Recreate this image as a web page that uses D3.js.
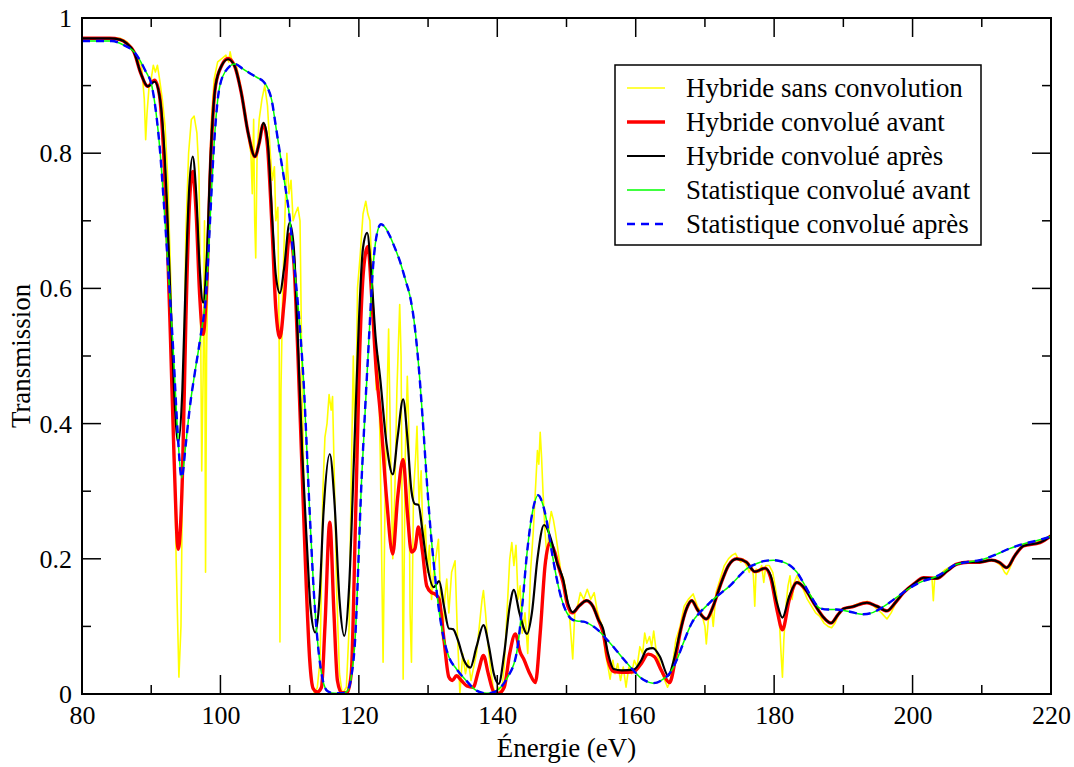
<!DOCTYPE html>
<html><head><meta charset="utf-8">
<script src="https://cdn.jsdelivr.net/npm/d3@7"></script>
<style>
html,body{margin:0;padding:0;background:#fff;}
text{font-family:"Liberation Serif","Times New Roman",Times,"DejaVu Serif","Noto Serif",serif;fill:#000;}
</style></head>
<body><svg id="chart" width="1074" height="767"></svg>
<script>
// ---------- DATA ----------
const xTicks = [80,100,120,140,160,180,200,220];
const yTicks = [0,0.2,0.4,0.6,0.8,1];
const yTickLabels = ["0","0.2","0.4","0.6","0.8","1"];
const seriesNames = ["Hybride sans convolution","Hybride convolué avant","Hybride convolué après","Statistique convolué avant","Statistique convolué après"];

const hybrideSans = [[80,0.970],[85.5,0.970],[86.5,0.965],[87.3,0.955],[88.0,0.94],[88.6,0.93],[89.0,0.88],[89.2,0.82],[89.4,0.86],[89.7,0.90],[90.0,0.91],[90.3,0.93],[90.6,0.92],[90.9,0.93],[91.2,0.91],[91.6,0.88],[92.0,0.84],[92.4,0.76],[92.8,0.62],[93.2,0.45],[93.6,0.20],[94.0,0.025],[94.3,0.10],[94.6,0.40],[95.0,0.68],[95.4,0.80],[95.8,0.85],[96.2,0.855],[96.6,0.83],[96.9,0.77],[97.1,0.60],[97.3,0.33],[97.5,0.47],[97.7,0.70],[97.85,0.18],[98.0,0.50],[98.3,0.72],[98.7,0.85],[99.1,0.91],[99.6,0.935],[100.2,0.94],[100.8,0.945],[101.2,0.935],[101.4,0.95],[101.7,0.935],[102.3,0.93],[103.0,0.895],[103.6,0.86],[104.1,0.82],[104.4,0.80],[104.6,0.74],[104.8,0.85],[104.95,0.70],[105.1,0.645],[105.3,0.80],[105.6,0.85],[106.0,0.88],[106.4,0.90],[106.8,0.87],[107.2,0.80],[107.5,0.76],[107.8,0.78],[108.0,0.70],[108.3,0.72],[108.5,0.50],[108.6,0.077],[108.75,0.45],[109.0,0.60],[109.3,0.70],[109.6,0.80],[109.9,0.74],[110.2,0.76],[110.5,0.70],[110.8,0.71],[111.2,0.72],[111.5,0.70],[111.8,0.45],[112.1,0.30],[112.4,0.18],[112.8,0.08],[113.2,0.02],[113.6,0.0],[114.0,0.01],[114.4,0.05],[114.8,0.30],[115.1,0.38],[115.4,0.40],[115.7,0.443],[116.0,0.42],[116.2,0.44],[116.5,0.30],[116.8,0.15],[117.2,0.03],[117.6,0.0],[118.2,0.01],[118.6,0.10],[118.9,0.32],[119.2,0.50],[119.5,0.35],[119.8,0.60],[120.2,0.65],[120.6,0.71],[121.0,0.729],[121.3,0.71],[121.6,0.70],[121.9,0.62],[122.2,0.55],[122.5,0.45],[122.8,0.50],[123.1,0.35],[123.5,0.047],[123.8,0.30],[124.1,0.45],[124.3,0.54],[124.6,0.35],[124.9,0.20],[125.2,0.30],[125.5,0.45],[125.9,0.576],[126.1,0.50],[126.4,0.022],[126.7,0.35],[127.0,0.47],[127.2,0.40],[127.4,0.12],[127.6,0.047],[127.9,0.30],[128.2,0.35],[128.4,0.396],[128.7,0.28],[129.0,0.33],[129.3,0.22],[129.6,0.25],[129.9,0.18],[130.2,0.22],[130.5,0.14],[130.8,0.18],[131.1,0.20],[131.5,0.229],[131.8,0.14],[132.1,0.08],[132.4,0.14],[132.7,0.17],[133.0,0.12],[133.4,0.18],[133.9,0.197],[134.2,0.10],[134.6,0.0],[135.0,0.06],[135.4,0.03],[135.8,0.05],[136.2,0.02],[136.6,0.04],[137.0,0.06],[137.4,0.10],[137.8,0.14],[138.0,0.153],[138.3,0.12],[138.6,0.08],[139.0,0.04],[139.4,0.01],[139.8,0.0],[140.2,0.01],[140.6,0.0],[141.0,0.04],[141.4,0.12],[141.8,0.20],[142.1,0.224],[142.4,0.19],[142.7,0.22],[143.0,0.14],[143.3,0.16],[143.6,0.09],[144.0,0.12],[144.4,0.06],[144.8,0.18],[145.2,0.24],[145.5,0.30],[145.8,0.36],[146.0,0.34],[146.2,0.387],[146.4,0.35],[146.6,0.30],[146.9,0.24],[147.2,0.20],[147.5,0.25],[147.8,0.27],[148.1,0.258],[148.4,0.24],[148.8,0.21],[149.2,0.18],[149.6,0.17],[150.0,0.15],[150.4,0.12],[150.9,0.052],[151.2,0.12],[151.6,0.13],[152.0,0.15],[152.5,0.14],[153.0,0.155],[153.5,0.14],[154.0,0.15],[154.4,0.125],[154.8,0.11],[155.2,0.10],[155.6,0.06],[156.0,0.04],[156.3,0.022],[156.7,0.05],[157.0,0.03],[157.4,0.045],[157.8,0.02],[158.2,0.04],[158.6,0.01],[159.0,0.04],[159.4,0.03],[159.8,0.05],[160.2,0.04],[160.6,0.07],[161.0,0.06],[161.3,0.09],[161.6,0.075],[162.0,0.085],[162.3,0.07],[162.6,0.093],[163.0,0.06],[163.4,0.05],[163.8,0.03],[164.2,0.02],[164.6,0.01],[165.0,0.02],[165.4,0.05],[165.8,0.08],[166.4,0.10],[167.0,0.13],[167.6,0.14],[168.3,0.148],[168.9,0.13],[169.5,0.12],[170.0,0.10],[170.2,0.074],[170.5,0.11],[171.0,0.12],[171.2,0.10],[171.6,0.15],[172.2,0.17],[172.8,0.19],[173.4,0.20],[173.9,0.205],[174.4,0.208],[174.8,0.20],[175.2,0.195],[175.5,0.20],[176.0,0.19],[176.4,0.18],[176.8,0.19],[177.0,0.175],[177.2,0.13],[177.4,0.185],[177.8,0.18],[178.2,0.19],[178.5,0.165],[178.8,0.19],[179.3,0.19],[179.8,0.18],[180.3,0.15],[180.7,0.12],[181.0,0.06],[181.2,0.025],[181.4,0.08],[181.7,0.13],[182.0,0.16],[182.3,0.175],[182.6,0.14],[182.9,0.165],[183.3,0.175],[183.7,0.165],[184.2,0.155],[184.8,0.14],[185.4,0.13],[186.0,0.12],[186.6,0.115],[187.2,0.105],[187.8,0.10],[188.3,0.098],[188.8,0.105],[189.4,0.12],[190.0,0.125],[190.6,0.128],[191.3,0.13],[192.0,0.133],[192.7,0.135],[193.5,0.137],[194.2,0.132],[194.9,0.125],[195.5,0.12],[196.3,0.111],[196.9,0.12],[197.6,0.135],[198.3,0.145],[199.0,0.152],[199.8,0.16],[200.6,0.165],[201.4,0.17],[202.2,0.172],[202.8,0.172],[203.0,0.138],[203.2,0.172],[203.8,0.175],[204.6,0.183],[205.4,0.188],[206.2,0.192],[207.0,0.194],[208.0,0.195],[209.0,0.195],[210.0,0.196],[211.0,0.198],[212.0,0.196],[212.8,0.19],[213.3,0.18],[213.6,0.177],[214.0,0.185],[214.6,0.20],[215.2,0.212],[216.0,0.219],[217.0,0.222],[218.0,0.225],[219.0,0.229],[220.0,0.235]];

const hybrideAvant = [[80,0.970],[84,0.970],[85.5,0.968],[86.5,0.962],[87.5,0.950],[88.5,0.918],[89.5,0.899],[90.5,0.908],[91.2,0.885],[91.8,0.80],[92.3,0.68],[92.8,0.52],[93.3,0.35],[93.9,0.214],[94.5,0.32],[95.0,0.55],[95.5,0.72],[96.0,0.773],[96.5,0.71],[97.0,0.59],[97.5,0.532],[98.0,0.60],[98.6,0.79],[99.3,0.90],[100.2,0.93],[101.1,0.940],[102.0,0.93],[103.0,0.89],[104.0,0.83],[105.0,0.795],[105.6,0.815],[106.2,0.843],[106.8,0.81],[107.5,0.68],[108.0,0.57],[108.6,0.527],[109.2,0.58],[110.0,0.680],[110.6,0.64],[111.2,0.50],[111.8,0.33],[112.4,0.16],[112.9,0.05],[113.4,0.008],[114.0,0.003],[114.6,0.01],[115.1,0.10],[115.8,0.254],[116.4,0.12],[116.9,0.02],[117.5,0.002],[118.3,0.002],[118.9,0.03],[119.5,0.25],[120.1,0.50],[120.7,0.63],[121.3,0.662],[121.9,0.58],[122.5,0.48],[123.1,0.416],[124.0,0.29],[124.9,0.207],[125.6,0.29],[126.4,0.347],[127.0,0.27],[127.6,0.21],[128.1,0.215],[128.6,0.247],[129.2,0.21],[129.8,0.16],[130.5,0.15],[131.0,0.148],[131.6,0.14],[132.3,0.08],[133.0,0.025],[133.5,0.02],[134.1,0.027],[134.8,0.02],[135.6,0.012],[136.5,0.01],[137.3,0.035],[138.0,0.057],[138.7,0.03],[139.5,0.003],[140.2,0.001],[141.0,0.01],[141.8,0.06],[142.6,0.089],[143.3,0.062],[143.8,0.052],[144.7,0.03],[145.5,0.017],[146.2,0.09],[146.9,0.19],[147.6,0.224],[148.3,0.21],[148.8,0.19],[149.5,0.165],[150.2,0.13],[150.9,0.12],[151.8,0.13],[152.9,0.138],[153.8,0.13],[154.6,0.11],[155.3,0.09],[156.0,0.05],[156.8,0.033],[158.0,0.032],[159.7,0.033],[160.8,0.045],[161.8,0.059],[162.7,0.055],[163.7,0.035],[164.9,0.017],[165.7,0.05],[166.4,0.09],[167.3,0.125],[168.1,0.138],[168.9,0.125],[170.2,0.111],[171.2,0.13],[172.2,0.16],[173.4,0.19],[174.6,0.20],[176.0,0.195],[177.2,0.181],[178.7,0.186],[179.5,0.172],[180.4,0.125],[181.2,0.095],[182.2,0.14],[183.3,0.165],[184.5,0.155],[185.7,0.135],[187.0,0.115],[188.2,0.105],[189.2,0.117],[190.0,0.126],[191.3,0.129],[193.4,0.135],[194.8,0.13],[196.3,0.123],[197.5,0.135],[198.7,0.15],[200.2,0.163],[201.6,0.172],[203.5,0.171],[205.0,0.182],[206.4,0.192],[208.0,0.195],[209.7,0.195],[211.4,0.198],[212.5,0.195],[213.6,0.187],[214.8,0.205],[216.0,0.219],[218.4,0.224],[220,0.234]];

const hybrideApres = [[80,0.970],[84,0.970],[85.5,0.968],[86.5,0.962],[87.5,0.950],[88.5,0.918],[89.5,0.899],[90.5,0.906],[91.2,0.885],[91.8,0.82],[92.3,0.72],[92.8,0.58],[93.3,0.45],[93.9,0.372],[94.5,0.45],[95.0,0.62],[95.5,0.75],[96.0,0.795],[96.5,0.74],[97.0,0.63],[97.5,0.579],[98.0,0.64],[98.6,0.80],[99.3,0.90],[100.2,0.93],[101.1,0.939],[102.0,0.93],[103.0,0.89],[104.0,0.83],[105.0,0.795],[105.6,0.815],[106.2,0.845],[106.8,0.82],[107.5,0.70],[108.0,0.62],[108.6,0.593],[109.2,0.63],[110.0,0.697],[110.6,0.66],[111.2,0.52],[111.8,0.36],[112.5,0.22],[113.0,0.13],[113.7,0.091],[114.3,0.14],[114.9,0.27],[115.8,0.355],[116.5,0.28],[117.2,0.14],[117.9,0.086],[118.6,0.16],[119.3,0.35],[120.0,0.55],[120.6,0.66],[121.2,0.682],[121.8,0.62],[122.4,0.53],[123.1,0.465],[124.0,0.37],[124.9,0.325],[125.6,0.38],[126.4,0.436],[127.0,0.38],[127.6,0.30],[128.1,0.281],[128.6,0.28],[129.2,0.24],[129.8,0.195],[130.8,0.158],[131.6,0.167],[132.3,0.13],[133.0,0.097],[133.6,0.096],[134.3,0.08],[135.2,0.05],[136.1,0.039],[137.0,0.07],[138.0,0.102],[138.8,0.07],[139.5,0.03],[140.2,0.015],[141.0,0.06],[141.8,0.13],[142.4,0.154],[143.2,0.12],[144.3,0.089],[145.0,0.12],[145.8,0.20],[146.75,0.25],[147.9,0.224],[148.6,0.195],[149.5,0.17],[150.2,0.135],[150.9,0.121],[151.8,0.13],[152.9,0.138],[153.8,0.13],[154.6,0.11],[155.3,0.096],[156.0,0.06],[156.8,0.037],[158.0,0.035],[159.7,0.036],[160.8,0.05],[161.6,0.066],[162.5,0.068],[163.5,0.055],[164.7,0.027],[165.5,0.05],[166.4,0.091],[167.3,0.125],[168.1,0.138],[168.9,0.125],[170.2,0.111],[171.2,0.13],[172.2,0.16],[173.4,0.19],[174.6,0.20],[176.0,0.195],[177.2,0.181],[178.7,0.186],[179.5,0.175],[180.4,0.135],[181.2,0.113],[182.2,0.145],[183.3,0.165],[184.5,0.155],[185.7,0.135],[187.0,0.115],[188.2,0.105],[189.2,0.117],[190.0,0.126],[191.3,0.129],[193.4,0.135],[194.8,0.13],[196.3,0.123],[197.5,0.135],[198.7,0.15],[200.2,0.163],[201.6,0.172],[203.5,0.171],[205.0,0.182],[206.4,0.192],[208.0,0.195],[209.7,0.195],[211.4,0.198],[212.5,0.195],[213.6,0.187],[214.8,0.205],[216.0,0.219],[218.4,0.224],[220,0.234]];

const statistiqueAvant = [[80,0.966],[84.3,0.966],[86.0,0.960],[87.7,0.948],[89.1,0.923],[90.1,0.899],[90.7,0.86],[91.3,0.80],[91.8,0.73],[92.3,0.653],[93.2,0.505],[93.8,0.39],[94.4,0.32],[95.0,0.37],[95.6,0.426],[96.3,0.475],[97.05,0.524],[98.0,0.603],[98.5,0.70],[99.0,0.80],[99.9,0.899],[101.0,0.925],[102.1,0.932],[103.2,0.925],[104.3,0.918],[105.3,0.912],[106.2,0.906],[106.9,0.895],[107.4,0.879],[108.0,0.84],[108.6,0.80],[109.3,0.755],[110.05,0.70],[110.6,0.64],[111.25,0.57],[112.0,0.465],[112.9,0.268],[113.5,0.15],[114.1,0.071],[114.8,0.02],[115.5,0.004],[116.5,0.001],[117.5,0.001],[118.3,0.004],[118.9,0.025],[119.4,0.071],[120.4,0.318],[121.4,0.514],[122.1,0.638],[122.6,0.68],[123.2,0.695],[123.8,0.69],[124.5,0.677],[125.2,0.66],[126.0,0.638],[126.8,0.61],[127.4,0.588],[128.0,0.55],[128.6,0.49],[129.2,0.41],[129.8,0.318],[130.3,0.25],[130.8,0.195],[131.5,0.13],[132.2,0.085],[133.0,0.055],[134.1,0.037],[135.5,0.02],[137.0,0.005],[138.5,0.001],[139.6,0.003],[140.5,0.01],[141.5,0.025],[142.8,0.061],[143.6,0.13],[144.3,0.209],[145.1,0.27],[145.9,0.294],[146.5,0.283],[147.1,0.258],[147.8,0.215],[148.6,0.170],[149.3,0.14],[150.0,0.121],[150.7,0.111],[151.5,0.108],[152.5,0.107],[153.4,0.103],[154.6,0.094],[155.8,0.081],[157.0,0.067],[158.2,0.052],[159.4,0.038],[160.6,0.025],[161.5,0.019],[162.5,0.016],[163.7,0.02],[165.0,0.032],[166.0,0.052],[166.9,0.076],[168.1,0.105],[169.3,0.121],[170.2,0.13],[171.2,0.14],[172.4,0.15],[173.6,0.16],[175.0,0.175],[176.0,0.185],[177.5,0.193],[178.7,0.197],[179.9,0.198],[181.1,0.196],[182.3,0.19],[183.3,0.18],[184.2,0.165],[185.3,0.145],[186.6,0.127],[187.8,0.125],[189.0,0.125],[190.8,0.122],[192.9,0.118],[194.1,0.12],[195.3,0.126],[196.5,0.134],[197.7,0.143],[198.9,0.152],[200.1,0.16],[201.5,0.167],[203.0,0.172],[204.5,0.18],[205.9,0.19],[207.8,0.195],[209.7,0.198],[211.0,0.202],[212.2,0.207],[214.0,0.215],[216.0,0.222],[218.0,0.227],[220.0,0.233]];

const statistiqueApres = [[80,0.966],[84.3,0.966],[86.0,0.960],[87.7,0.948],[89.1,0.923],[90.1,0.899],[90.7,0.86],[91.3,0.80],[91.8,0.73],[92.3,0.653],[93.2,0.505],[93.8,0.39],[94.4,0.32],[95.0,0.37],[95.6,0.426],[96.3,0.475],[97.05,0.524],[98.0,0.603],[98.5,0.70],[99.0,0.80],[99.9,0.899],[101.0,0.925],[102.1,0.932],[103.2,0.925],[104.3,0.918],[105.3,0.912],[106.2,0.906],[106.9,0.895],[107.4,0.879],[108.0,0.84],[108.6,0.80],[109.3,0.755],[110.05,0.70],[110.6,0.64],[111.25,0.57],[112.0,0.465],[112.9,0.268],[113.5,0.15],[114.1,0.071],[114.8,0.02],[115.5,0.004],[116.5,0.001],[117.5,0.001],[118.3,0.004],[118.9,0.025],[119.4,0.071],[120.4,0.318],[121.4,0.514],[122.1,0.638],[122.6,0.68],[123.2,0.695],[123.8,0.69],[124.5,0.677],[125.2,0.66],[126.0,0.638],[126.8,0.61],[127.4,0.588],[128.0,0.55],[128.6,0.49],[129.2,0.41],[129.8,0.318],[130.3,0.25],[130.8,0.195],[131.5,0.13],[132.2,0.085],[133.0,0.055],[134.1,0.037],[135.5,0.02],[137.0,0.005],[138.5,0.001],[139.6,0.003],[140.5,0.01],[141.5,0.025],[142.8,0.061],[143.6,0.13],[144.3,0.209],[145.1,0.27],[145.9,0.294],[146.5,0.283],[147.1,0.258],[147.8,0.215],[148.6,0.170],[149.3,0.14],[150.0,0.121],[150.7,0.111],[151.5,0.108],[152.5,0.107],[153.4,0.103],[154.6,0.094],[155.8,0.081],[157.0,0.067],[158.2,0.052],[159.4,0.038],[160.6,0.025],[161.5,0.019],[162.5,0.016],[163.7,0.02],[165.0,0.032],[166.0,0.052],[166.9,0.076],[168.1,0.105],[169.3,0.121],[170.2,0.13],[171.2,0.14],[172.4,0.15],[173.6,0.16],[175.0,0.175],[176.0,0.185],[177.5,0.193],[178.7,0.197],[179.9,0.198],[181.1,0.196],[182.3,0.19],[183.3,0.18],[184.2,0.165],[185.3,0.145],[186.6,0.127],[187.8,0.125],[189.0,0.125],[190.8,0.122],[192.9,0.118],[194.1,0.12],[195.3,0.126],[196.5,0.134],[197.7,0.143],[198.9,0.152],[200.1,0.16],[201.5,0.167],[203.0,0.172],[204.5,0.18],[205.9,0.19],[207.8,0.195],[209.7,0.198],[211.0,0.202],[212.2,0.207],[214.0,0.215],[216.0,0.222],[218.0,0.227],[220.0,0.233]];

// ---------- DRAW ----------
const FONT = '"Liberation Serif","Times New Roman",Times,"DejaVu Serif","Noto Serif",serif';
const svg = d3.select("#chart");
const L = 82, R = 1051, T = 18, B = 694;
const x = d3.scaleLinear().domain([80,220]).range([L,R]);
const y = d3.scaleLinear().domain([0,1]).range([B,T]);

const styles = [
  {data: hybrideSans, color:"#ffff00", width:1.6, dash:null, curve:d3.curveLinear},
  {data: hybrideAvant, color:"#ff0000", width:3.4, dash:null, curve:d3.curveMonotoneX},
  {data: hybrideApres, color:"#000000", width:2.2, dash:null, curve:d3.curveMonotoneX},
  {data: statistiqueAvant, color:"#00ff00", width:1.5, dash:null, curve:d3.curveMonotoneX},
  {data: statistiqueApres, color:"#0000ff", width:2.4, dash:"8,6", curve:d3.curveMonotoneX}
];

const g = svg.append("g");
styles.forEach(s => {
  const line = d3.line().x(d => x(d[0])).y(d => y(d[1])).curve(s.curve);
  g.append("path").datum(s.data)
    .attr("fill","none").attr("stroke",s.color).attr("stroke-width",s.width)
    .attr("stroke-linejoin","round").attr("stroke-linecap","butt")
    .attr("stroke-dasharray",s.dash).attr("d",line);
});

// frame
svg.append("rect").attr("x",L).attr("y",T).attr("width",R-L).attr("height",B-T)
  .attr("fill","none").attr("stroke","#000").attr("stroke-width",2);

// ticks (inward on all 4 sides)
const xMinor = d3.range(90,220,20);
const yMinor = d3.range(1,10,2).map(v=>v/10);
const tk = svg.append("g").attr("stroke","#000").attr("stroke-width",1.5);
function vt(xv, len){ tk.append("line").attr("x1",x(xv)).attr("x2",x(xv)).attr("y1",B).attr("y2",B-len);
  tk.append("line").attr("x1",x(xv)).attr("x2",x(xv)).attr("y1",T).attr("y2",T+len); }
function ht(yv, len){ tk.append("line").attr("y1",y(yv)).attr("y2",y(yv)).attr("x1",L).attr("x2",L+len);
  tk.append("line").attr("y1",y(yv)).attr("y2",y(yv)).attr("x1",R).attr("x2",R-len); }
xTicks.forEach(v=>vt(v,19)); xMinor.forEach(v=>vt(v,9));
yTicks.forEach(v=>ht(v,19)); yMinor.forEach(v=>ht(v,9));

// legend first to measure font scaling
const leg = svg.append("g");
leg.append("rect").attr("x",615).attr("y",65).attr("width",366).attr("height",180)
  .attr("fill","#fff").attr("stroke","#000").attr("stroke-width",1.5);
const rowY = [88, 122, 156, 190, 224];
const legTexts = [];
styles.forEach((s,i)=>{
  leg.append("line").attr("x1",627).attr("x2",665).attr("y1",rowY[i]).attr("y2",rowY[i])
    .attr("stroke",s.color).attr("stroke-width",s.width).attr("stroke-dasharray",s.dash);
  legTexts.push(leg.append("text").attr("x",686).attr("y",rowY[i]+9).attr("font-size",27)
    .style("font-family",FONT).text(seriesNames[i]));
});
// scale fonts so text widths match the reference (Times-like metrics)
let k = 1;
try { const w = legTexts[0].node().getComputedTextLength(); if (w > 0) k = 277 / w; } catch(e) {}
legTexts.forEach(t => t.attr("font-size", 27*k));

// tick labels
const axB = d3.axisBottom(x).tickValues(xTicks).tickSize(0).tickFormat(d3.format("d"));
const xl = svg.append("g").attr("transform",`translate(0,${B})`).call(axB);
xl.select(".domain").remove();
xl.selectAll("text").style("font-family",FONT).attr("font-size",26*k)
  .attr("fill","#000").attr("y",30).attr("dy",0);
const axL = d3.axisLeft(y).tickValues(yTicks).tickSize(0).tickFormat((d,i)=>yTickLabels[i]);
const yl = svg.append("g").attr("transform",`translate(${L},0)`).call(axL);
yl.select(".domain").remove();
yl.selectAll("text").style("font-family",FONT).attr("font-size",26*k)
  .attr("fill","#000").attr("x",-10).attr("dy","0.33em");

// axis titles
svg.append("text").attr("x",(L+R)/2).attr("y",757).attr("text-anchor","middle")
  .style("font-family",FONT).attr("font-size",27*k).text("Énergie (eV)");
svg.append("text").attr("transform",`translate(30,${(T+B)/2}) rotate(-90)`)
  .attr("text-anchor","middle").style("font-family",FONT).attr("font-size",27*k).text("Transmission");
</script></body></html>
